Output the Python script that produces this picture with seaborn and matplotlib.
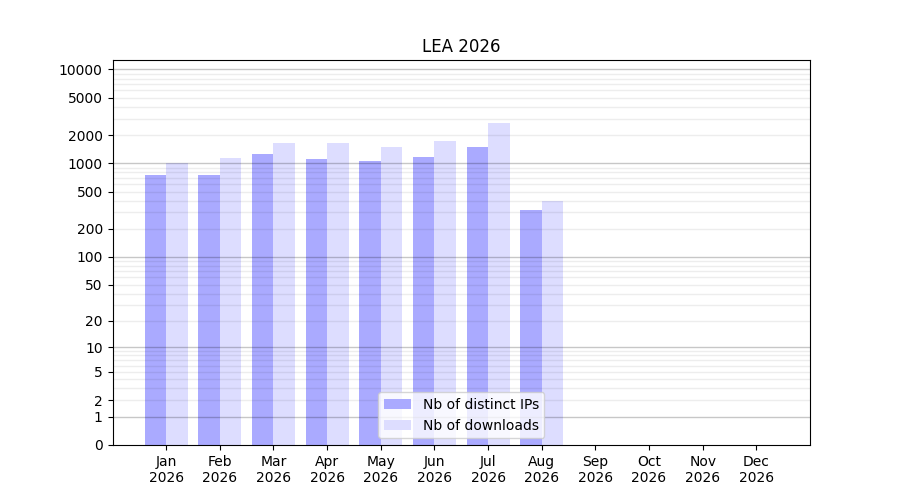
import numpy as np
import pandas as pd
import matplotlib
matplotlib.use("Agg")
import matplotlib.pyplot as plt
import seaborn as sns

months = ["Jan", "Feb", "Mar", "Apr", "May", "Jun", "Jul", "Aug", "Sep", "Oct", "Nov", "Dec"]
year = "2026"
distinct_ips = [750, 750, 1265, 1110, 1058, 1167, 1492, 317, np.nan, np.nan, np.nan, np.nan]
downloads = [1010, 1138, 1645, 1645, 1492, 1728, 2686, 399, np.nan, np.nan, np.nan, np.nan]
series_names = ["Nb of distinct IPs", "Nb of downloads"]
series_colors = ["#aaaaff", "#ddddff"]
ytick_values = [0, 1, 2, 5, 10, 20, 50, 100, 200, 500, 1000, 2000, 5000, 10000]
title = "LEA 2026"

labels = [f"{m}\n{year}" for m in months]
df = pd.DataFrame({
    "month": labels * 2,
    "value": distinct_ips + downloads,
    "series": [series_names[0]] * 12 + [series_names[1]] * 12,
})

fig, ax = plt.subplots(figsize=(9, 5), dpi=100)
sns.barplot(data=df, x="month", y="value", hue="series", order=labels,
            hue_order=series_names, palette=series_colors, ax=ax,
            saturation=1, errorbar=None, width=0.8)


def fwd(x):
    x = np.asarray(x, dtype=float)
    return np.log10(np.maximum(1.0 + x, 1e-12))


def inv(y):
    return 10.0 ** np.asarray(y, dtype=float) - 1.0


ax.set_yscale("function", functions=(fwd, inv))
ax.set_ylim(0, 12600)
ax.set_xlim(-1, 12)
ax.set_yticks(ytick_values)
ax.set_yticklabels([str(v) for v in ytick_values])

minor = []
for d in [1, 10, 100, 1000, 10000]:
    for k in range(1, 10):
        v = d * k
        if v <= 12600:
            minor.append(v)
ax.yaxis.remove_overlapping_locs = False
ax.set_yticks(minor, minor=True)
ax.tick_params(axis="y", which="minor", length=0)
ax.grid(False)
ax.yaxis.grid(True, which="minor", color="black", alpha=0.07, linewidth=1)
ax.set_axisbelow(False)
fig.canvas.draw()
for tick in ax.yaxis.get_minor_ticks():
    v = tick.get_loc()
    if v in (1, 10, 100, 1000, 10000):
        tick.gridline.set_alpha(0.22)

ax.set_xlabel("")
ax.set_ylabel("")
ax.set_title(title, fontsize=12)
handles, leg_labels = ax.get_legend_handles_labels()
ax.legend(handles, leg_labels, loc="lower center")

fig.savefig("out.png", dpi=100)
